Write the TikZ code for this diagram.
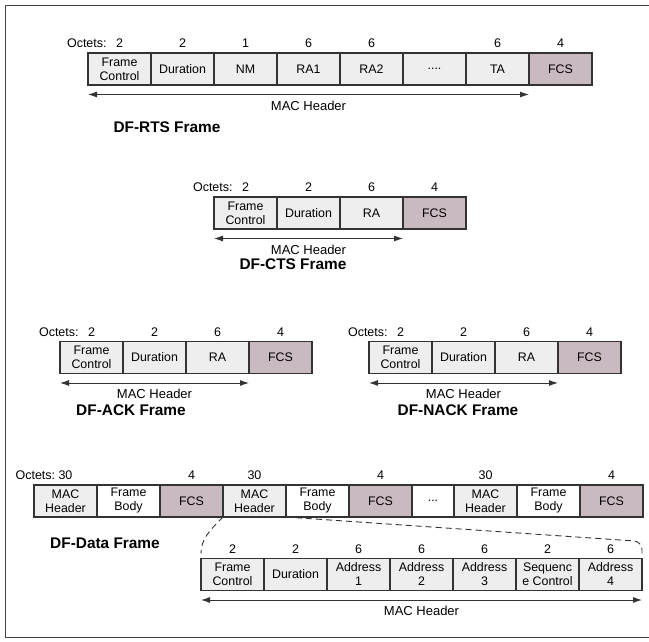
\documentclass[tikz,border=0pt]{standalone}
\usepackage{fontspec}
\setmainfont{Liberation Sans}
\usetikzlibrary{arrows.meta,positioning}
\definecolor{Ink}{HTML}{333333}
\definecolor{Rim}{HTML}{444444}
\definecolor{Field}{HTML}{EEEEEE}
\definecolor{Check}{HTML}{C9BAC1}
\tikzset{
  field/.style={
    draw=Ink, line width=1.2pt, fill=Field, inner sep=0pt, outer sep=0pt,
    minimum width=63pt, minimum height=32pt, align=center,
    font=\fontsize{12.4}{14}\selectfont
  },
  body/.style={field, fill=white},
  fcs/.style={field, fill=Check},
  octet/.style={inner sep=0pt, font=\fontsize{12.5}{14}\selectfont},
  hdrlabel/.style={inner sep=0pt, font=\fontsize{13}{15}\selectfont},
  caption/.style={inner sep=0pt, font=\fontsize{15.4}{17}\selectfont\bfseries},
  span/.style={{Latex[length=9pt,width=6pt]}-{Latex[length=9pt,width=6pt]},
    draw=Ink, line width=0.9pt},
  expand/.style={draw=Ink, line width=0.9pt, dash pattern=on 6pt off 4pt}
}

\begin{document}
\begin{tikzpicture}[x=1pt,y=-1pt]
  \useasboundingbox (0,0) rectangle (649,642);
  \draw[Rim, line width=1pt] (655,6) -- (5,6) -- (5,637) -- (655,637);

  % DF-RTS
  \node[field, anchor=west] (rts1) at (88,69) {Frame\\Control};
  \node[field, right=0pt of rts1] (rts2) {Duration};
  \node[field, right=0pt of rts2] (rts3) {NM};
  \node[field, right=0pt of rts3] (rts4) {RA1};
  \node[field, right=0pt of rts4] (rts5) {RA2};
  \node[field, right=0pt of rts5] (rts6) {....};
  \node[field, right=0pt of rts6] (rts7) {TA};
  \node[fcs, right=0pt of rts7] (rts8) {FCS};
  \node[octet, above=5pt of rts1] (rtso1) {2};
  \node[octet, above=5pt of rts2] (rtso2) {2};
  \node[octet, above=5pt of rts3] (rtso3) {1};
  \node[octet, above=5pt of rts4] (rtso4) {6};
  \node[octet, above=5pt of rts5] (rtso5) {6};
  \node[octet, above=5pt of rts7] (rtso7) {6};
  \node[octet, above=5pt of rts8] (rtso8) {4};
  \node[octet, left=9pt of rtso1] (rtsoct) {Octets:};
  \draw[span] ([yshift=-9.5pt]rts1.south west) --
    node[hdrlabel, below=6pt] (rtsmac) {MAC Header} ([yshift=-9.5pt]rts7.south east);
  \node[caption] (rtsname) at (167,127) {DF-RTS Frame};

  % DF-CTS
  \node[field, anchor=west] (cts1) at (214,213) {Frame\\Control};
  \node[field, right=0pt of cts1] (cts2) {Duration};
  \node[field, right=0pt of cts2] (cts3) {RA};
  \node[fcs, right=0pt of cts3] (cts4) {FCS};
  \node[octet, above=5pt of cts1] (ctso1) {2};
  \node[octet, above=5pt of cts2] (ctso2) {2};
  \node[octet, above=5pt of cts3] (ctso3) {6};
  \node[octet, above=5pt of cts4] (ctso4) {4};
  \node[octet, left=9pt of ctso1] (ctsoct) {Octets:};
  \draw[span] ([yshift=-9.5pt]cts1.south west) --
    node[hdrlabel, below=6pt] (ctsmac) {MAC Header} ([yshift=-9.5pt]cts3.south east);
  \node[caption] (ctsname) at (293,264) {DF-CTS Frame};

  % DF-ACK
  \node[field, anchor=west] (ack1) at (60,357.5) {Frame\\Control};
  \node[field, right=0pt of ack1] (ack2) {Duration};
  \node[field, right=0pt of ack2] (ack3) {RA};
  \node[fcs, right=0pt of ack3] (ack4) {FCS};
  \node[octet, above=5pt of ack1] (acko1) {2};
  \node[octet, above=5pt of ack2] (acko2) {2};
  \node[octet, above=5pt of ack3] (acko3) {6};
  \node[octet, above=5pt of ack4] (acko4) {4};
  \node[octet, left=9pt of acko1] (ackoct) {Octets:};
  \draw[span] ([yshift=-9.5pt]ack1.south west) --
    node[hdrlabel, below=6pt] (ackmac) {MAC Header} ([yshift=-9.5pt]ack3.south east);
  \node[caption] (ackname) at (131,410) {DF-ACK Frame};

  % DF-NACK
  \node[field, anchor=west] (nack1) at (369,357.5) {Frame\\Control};
  \node[field, right=0pt of nack1] (nack2) {Duration};
  \node[field, right=0pt of nack2] (nack3) {RA};
  \node[fcs, right=0pt of nack3] (nack4) {FCS};
  \node[octet, above=5pt of nack1] (nacko1) {2};
  \node[octet, above=5pt of nack2] (nacko2) {2};
  \node[octet, above=5pt of nack3] (nacko3) {6};
  \node[octet, above=5pt of nack4] (nacko4) {4};
  \node[octet, left=9pt of nacko1] (nackoct) {Octets:};
  \draw[span] ([yshift=-9.5pt]nack1.south west) --
    node[hdrlabel, below=6pt] (nackmac) {MAC Header} ([yshift=-9.5pt]nack3.south east);
  \node[caption] (nackname) at (458,410) {DF-NACK Frame};

  % DF-Data
  \node[field, anchor=west] (dat1) at (34,501) {MAC\\Header};
  \node[body, right=0pt of dat1] (dat2) {Frame\\Body};
  \node[fcs, right=0pt of dat2] (dat3) {FCS};
  \node[field, right=0pt of dat3] (dat4) {MAC\\Header};
  \node[body, right=0pt of dat4] (dat5) {Frame\\Body};
  \node[fcs, right=0pt of dat5] (dat6) {FCS};
  \node[body, minimum width=42pt, right=0pt of dat6] (dat7) {...};
  \node[field, right=0pt of dat7] (dat8) {MAC\\Header};
  \node[body, right=0pt of dat8] (dat9) {Frame\\Body};
  \node[fcs, right=0pt of dat9] (dat10) {FCS};
  \node[octet, above=5pt of dat1] (dato1) {30};
  \node[octet, above=5pt of dat3] (dato3) {4};
  \node[octet, above=5pt of dat4] (dato4) {30};
  \node[octet, above=5pt of dat6] (dato6) {4};
  \node[octet, above=5pt of dat8] (dato8) {30};
  \node[octet, above=5pt of dat10] (dato10) {4};
  \node[octet, left=3pt of dato1] (datoct) {Octets:};
  \node[caption] (datname) at (105,543) {DF-Data Frame};

  % MAC header of a data frame
  \node[field, anchor=west] (mac1) at (201,574.5) {Frame\\Control};
  \node[field, right=0pt of mac1] (mac2) {Duration};
  \node[field, right=0pt of mac2] (mac3) {Address\\1};
  \node[field, right=0pt of mac3] (mac4) {Address\\2};
  \node[field, right=0pt of mac4] (mac5) {Address\\3};
  \node[field, right=0pt of mac5] (mac6) {Sequenc\\e Control};
  \node[field, right=0pt of mac6] (mac7) {Address\\4};
  \node[octet, above=5pt of mac1] (maco1) {2};
  \node[octet, above=5pt of mac2] (maco2) {2};
  \node[octet, above=5pt of mac3] (maco3) {6};
  \node[octet, above=5pt of mac4] (maco4) {6};
  \node[octet, above=5pt of mac5] (maco5) {6};
  \node[octet, above=5pt of mac6] (maco6) {2};
  \node[octet, above=5pt of mac7] (maco7) {6};
  \draw[span] ([yshift=-9.5pt]mac1.south west) --
    node[hdrlabel, below=6pt] (macmac) {MAC Header} ([yshift=-9.5pt]mac7.south east);
  \draw[expand] (dat4.south west) .. controls +(-14,14) and +(0,-14) ..
    ([yshift=5pt]mac1.north west);
  \draw[expand, rounded corners=8pt] (dat4.south east) --
    ([yshift=17pt]mac7.north east) -- ([yshift=5pt]mac7.north east);
\end{tikzpicture}
\end{document}
